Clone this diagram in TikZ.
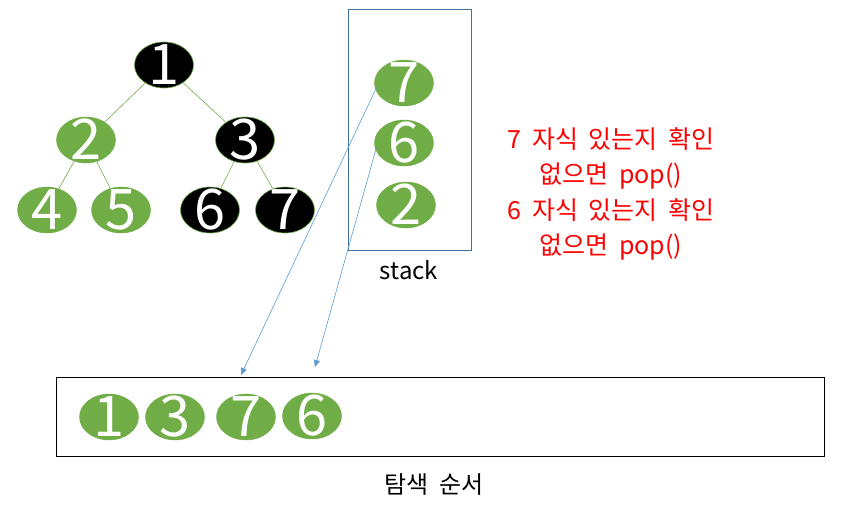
\documentclass[tikz,border=0pt]{standalone}
\usepackage{fontspec}
\setmainfont{Noto Sans CJK KR}
\usetikzlibrary{shapes.geometric,arrows.meta}
\definecolor{gr}{HTML}{70AD47}
\definecolor{bl}{HTML}{5B9BD5}
\definecolor{bx}{HTML}{41719C}
\newcommand{\widesp}{\spaceskip=0.42em\relax}
\newcommand{\dg}[1]{\makebox[0pt]{\raisebox{-0.34em}[0pt][0pt]{#1}}}
\begin{document}
\begin{tikzpicture}[x=1pt,y=-1pt,
  vtx/.style={ellipse,minimum width=59pt,minimum height=46pt,inner sep=0pt,text=white,
    font=\fontsize{56}{56}\selectfont},
  gv/.style={vtx,fill=gr,draw=gr},
  kv/.style={vtx,fill=black,draw=gr,line width=0.6pt},
  tedge/.style={draw=gr,line width=0.6pt},
  link/.style={draw=bl,line width=0.6pt,-{Triangle[length=7pt,width=6pt]}},
  note/.style={text=red,font=\fontsize{25}{35}\selectfont\widesp,align=center},
  lab/.style={font=\fontsize{24}{26}\selectfont\widesp}]
\useasboundingbox (0,0) rectangle (850,511);
% tree
\node[kv] (n1) at (164,65) {\dg{1}};
\node[gv] (n2) at (86,140) {\dg{2}};
\node[kv] (n3) at (245,140) {\dg{3}};
\node[gv] (n4) at (47,210) {\dg{4}};
\node[gv] (n5) at (121,210) {\dg{5}};
\node[kv] (n6) at (210,210) {\dg{6}};
\node[kv] (n7) at (285,210) {\dg{7}};
\draw[tedge] (n1) -- (n2);
\draw[tedge] (n1) -- (n3);
\draw[tedge] (n2) -- (n4);
\draw[tedge] (n2) -- (n5);
\draw[tedge] (n3) -- (n6);
\draw[tedge] (n3) -- (n7);
% stack
\node[draw=bx,line width=0.6pt,minimum width=123pt,minimum height=241pt,inner sep=0pt] (stk) at (409.5,129.5) {};
\node[gv] (s7) at (404,83) {\dg{7}};
\node[gv] (s6) at (404,143) {\dg{6}};
\node[gv] (s2) at (406,205) {\dg{2}};
\node[lab] (stl) at (409,270) {stack};
% notes
\node[note] (t1) at (611,158) {7 자식 있는지 확인\\없으면 pop()};
\node[note] (t2) at (611,229) {6 자식 있는지 확인\\없으면 pop()};
% order box
\node[draw=black,line width=0.8pt,minimum width=768pt,minimum height=79pt,inner sep=0pt] (ord) at (440,416.5) {};
\node[gv] (o1) at (109,417) {\dg{1}};
\node[gv] (o3) at (175,417) {\dg{3}};
\node[gv] (o7) at (246,417) {\dg{7}};
\node[gv] (o6) at (312,416) {\dg{6}};
\node[lab] (ol) at (434,485) {탐색 순서};
% links
\coordinate (a7) at (241,375);
\coordinate (a6) at (315,367);
\draw[link] (s7.west) ++(2,5) -- (a7);
\draw[link] (s6.west) ++(2,5) -- (a6);
\end{tikzpicture}
\end{document}
